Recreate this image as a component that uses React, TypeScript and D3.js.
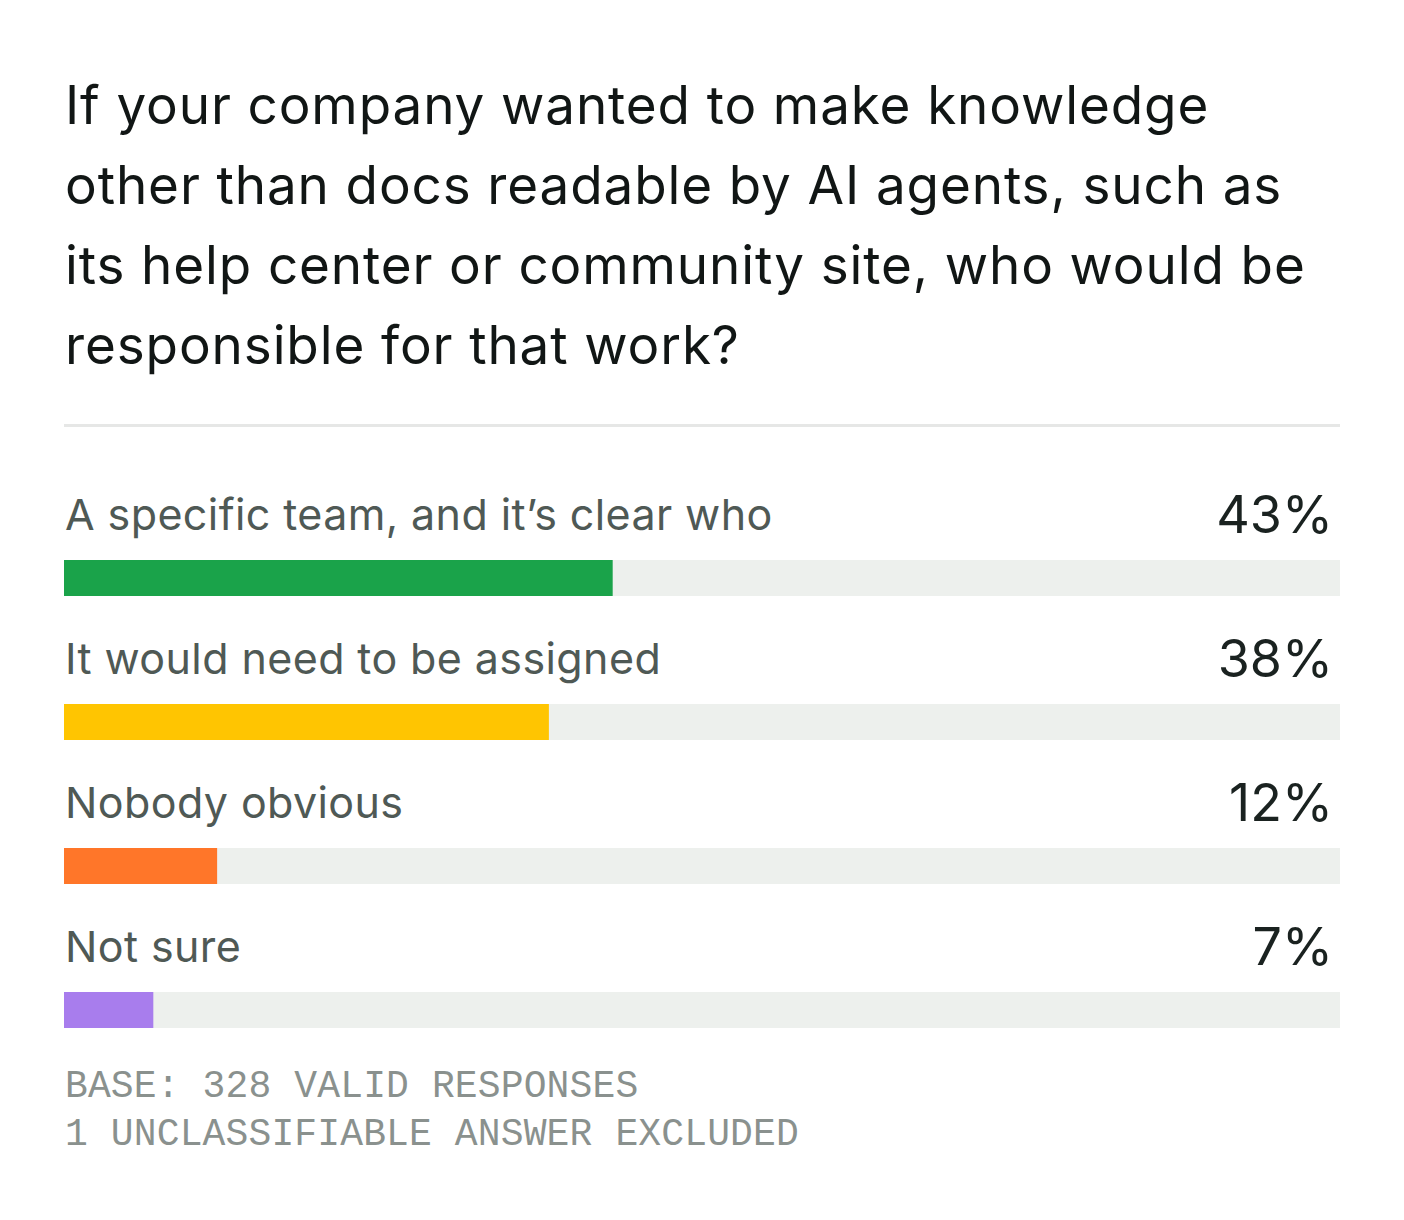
import React from "react";
import * as d3 from "d3";

const titleLines = [
  "If your company wanted to make knowledge",
  "other than docs readable by AI agents, such as",
  "its help center or community site, who would be",
  "responsible for that work?",
];
const categories = [
  "A specific team, and it’s clear who",
  "It would need to be assigned",
  "Nobody obvious",
  "Not sure",
];
const values = [43, 38, 12, 7];
const colors = ["#1aa34a", "#ffc501", "#ff7629", "#a87ded"];
const footnotes = ["BASE: 328 VALID RESPONSES", "1 UNCLASSIFIABLE ANSWER EXCLUDED"];

const W = 1404;
const H = 1220;
const left = 64;
const right = 1340;

export default function App() {
  const x = d3.scaleLinear().domain([0, 100]).range([left, right]);
  const rowY = d3.scaleLinear().domain([0, 1]).range([560, 704]);
  const barH = 36;
  const sans = "Inter, 'Noto Sans', sans-serif";
  return (
    <svg
      width={W}
      height={H}
      style={{ position: "absolute", left: 0, top: 0, background: "#fff" }}
    >
      <rect x={0} y={0} width={W} height={H} fill="#fff" />
      {titleLines.map((t, i) => (
        <text
          key={i}
          x={65}
          y={124 + i * 80}
          fontFamily={sans}
          fontSize={53}
          letterSpacing={0.88}
          fill="#111615"
        >
          {t}
        </text>
      ))}
      <rect x={left} y={424} width={right - left} height={3} fill="#e6e7e6" />
      {categories.map((c, i) => {
        const y0 = rowY(i);
        return (
          <g key={c}>
            <text
              x={65}
              y={y0 - 30}
              fontFamily={sans}
              fontSize={43}
              letterSpacing={0.4}
              fill="#4f5955"
            >
              {c}
            </text>
            <text
              x={1333}
              y={y0 - 27}
              textAnchor="end"
              fontFamily={sans}
              fontSize={52}
              fill="#1a2220"
            >
              {values[i]}%
            </text>
            <rect x={left} y={y0} width={x(100) - left} height={barH} fill="#edf0ed" />
            <rect x={left} y={y0} width={x(values[i]) - left} height={barH} fill={colors[i]} />
          </g>
        );
      })}
      {footnotes.map((f, i) => (
        <text
          key={f}
          x={65}
          y={1097 + i * 48}
          fontFamily="'Liberation Mono', 'DejaVu Sans Mono', monospace"
          fontSize={38}
          letterSpacing={0.13}
          fill="#8a918e"
        >
          {f}
        </text>
      ))}
    </svg>
  );
}
